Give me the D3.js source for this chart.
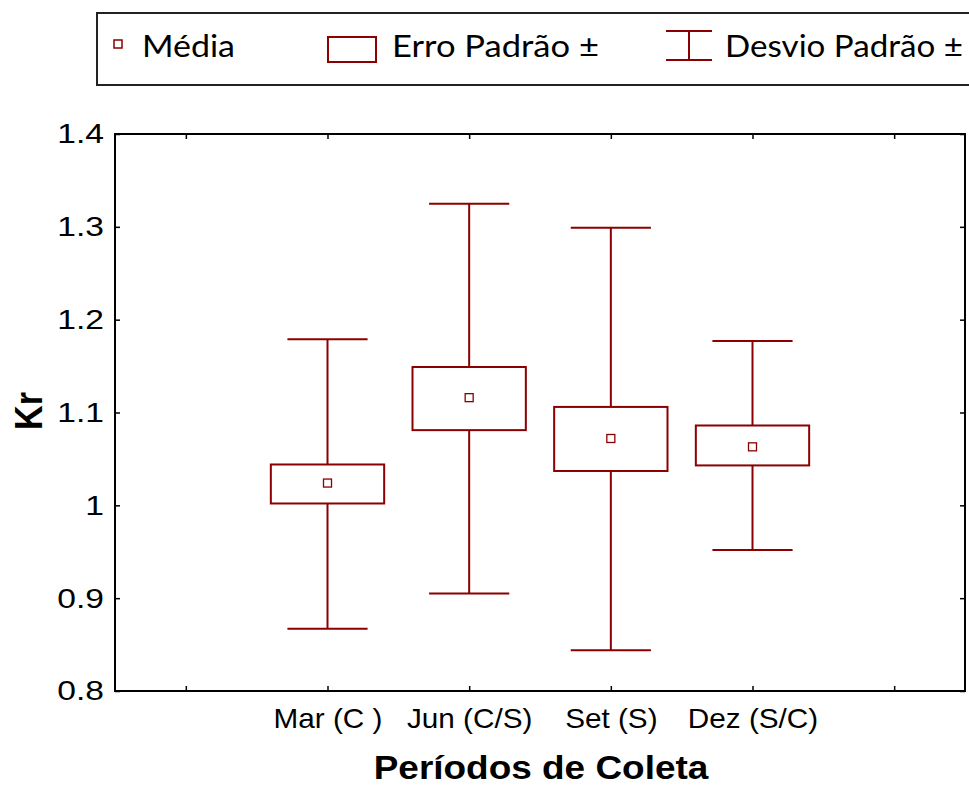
<!DOCTYPE html>
<html><head><meta charset="utf-8">
<script src="https://cdn.jsdelivr.net/npm/d3@7"></script>
<style>body{margin:0;background:#fff}</style>
</head><body><svg id="c" width="969" height="787"></svg>
<script>
// ---- data ----
const categories = ["Mar (C )", "Jun (C/S)", "Set (S)", "Dez (S/C)"];
const means  = [1.024, 1.116, 1.072, 1.063];
const seLow  = [1.002, 1.081, 1.037, 1.043];
const seHigh = [1.044, 1.149, 1.106, 1.086];
const sdLow  = [0.867, 0.905, 0.844, 0.952];
const sdHigh = [1.179, 1.325, 1.299, 1.177];
const yTicks = [0.8, 0.9, 1.0, 1.1, 1.2, 1.3, 1.4];
const legendLabels = ["Média", "Erro Padrão ±", "Desvio Padrão ±"];
const xTitle = "Períodos de Coleta";
const yTitle = "Kr";

// ---- layout ----
const L = 115, R = 965, T = 134, B = 691;
const red = "#8b0000";
const svg = d3.select("#c");

const slots = ["_a", ...categories, "_b"];
const x = d3.scalePoint().domain(slots).range([L, R]).padding(0.5);
const step = x.step();
const y = d3.scaleLinear().domain([0.8, 1.4]).range([B, T]);

// axes
const fmtY = d => (d === 1 ? "1" : d3.format(".1f")(d));
const gB = svg.append("g").attr("transform", `translate(0,${B})`)
  .call(d3.axisBottom(x).tickSizeInner(-5).tickSizeOuter(0).tickPadding(18)
    .tickFormat(d => d.startsWith("_") ? "" : d));
gB.selectAll("text").attr("font-family", "Liberation Sans, Arial, sans-serif")
  .attr("font-size", 27).attr("fill", "#000").attr("transform", "scale(1.1,1)");
const gT = svg.append("g").attr("transform", `translate(0,${T})`)
  .call(d3.axisTop(x).tickSizeInner(-5).tickSizeOuter(0).tickFormat(""));
const gL = svg.append("g").attr("transform", `translate(${L},0)`)
  .call(d3.axisLeft(y).tickValues(yTicks).tickSizeInner(-5).tickSizeOuter(0).tickPadding(11).tickFormat(fmtY));
gL.selectAll("text").attr("font-family", "Liberation Sans, Arial, sans-serif")
  .attr("font-size", 28).attr("fill", "#000")
  .attr("x", -11 / 1.2).attr("transform", "scale(1.2,1)");
const gR = svg.append("g").attr("transform", `translate(${R},0)`)
  .call(d3.axisRight(y).tickValues(yTicks).tickSizeInner(-5).tickSizeOuter(0).tickFormat(""));
[gB, gT, gL, gR].forEach(g => {
  g.select(".domain").remove();
  g.selectAll(".tick line").attr("stroke", "#000").attr("stroke-width", 1.5);
});

// frame
svg.append("rect").attr("x", L).attr("y", T).attr("width", R - L).attr("height", B - T)
  .attr("fill", "none").attr("stroke", "#000").attr("stroke-width", 2);

// boxes
const idx = d3.range(categories.length);
const g = svg.append("g");
idx.forEach(i => {
  const cx = x(categories[i]);
  g.append("line").attr("x1", cx).attr("x2", cx).attr("y1", y(sdHigh[i])).attr("y2", y(sdLow[i]))
    .attr("stroke", red).attr("stroke-width", 2);
  [sdHigh[i], sdLow[i]].forEach(v => {
    g.append("line").attr("x1", cx - 0.283 * step).attr("x2", cx + 0.283 * step)
      .attr("y1", y(v)).attr("y2", y(v)).attr("stroke", red).attr("stroke-width", 2);
  });
  g.append("rect").attr("x", cx - 0.4 * step).attr("width", 0.8 * step)
    .attr("y", y(seHigh[i])).attr("height", y(seLow[i]) - y(seHigh[i]))
    .attr("fill", "#fff").attr("stroke", red).attr("stroke-width", 2);
  g.append("rect").attr("x", cx - 4).attr("y", y(means[i]) - 4).attr("width", 8).attr("height", 8)
    .attr("fill", "#fff").attr("stroke", red).attr("stroke-width", 1.3);
});

// titles
svg.append("g").attr("transform", `translate(541,779)`)
  .append("text").attr("text-anchor", "middle").attr("transform", "scale(1.12,1)")
  .attr("font-family", "Liberation Sans, Arial, sans-serif").attr("font-weight", "bold")
  .attr("font-size", 33).attr("fill", "#000").text(xTitle);
svg.append("g").attr("transform", `translate(42,411) rotate(-90)`)
  .append("text").attr("text-anchor", "middle").attr("transform", "scale(1,1.15)")
  .attr("font-family", "Liberation Sans, Arial, sans-serif").attr("font-weight", "bold")
  .attr("font-size", 34).attr("fill", "#000").text(yTitle);

// legend
const lg = svg.append("g");
lg.append("rect").attr("x", 97).attr("y", 13).attr("width", 900).attr("height", 72)
  .attr("fill", "#fff").attr("stroke", "#222").attr("stroke-width", 2);
lg.append("rect").attr("x", 114).attr("y", 40).attr("width", 8).attr("height", 8)
  .attr("fill", "#fff").attr("stroke", red).attr("stroke-width", 1.5);
lg.append("rect").attr("x", 328).attr("y", 37).attr("width", 48).attr("height", 25)
  .attr("fill", "#fff").attr("stroke", red).attr("stroke-width", 2);
lg.append("line").attr("x1", 689).attr("x2", 689).attr("y1", 31).attr("y2", 60).attr("stroke", red).attr("stroke-width", 2);
lg.append("line").attr("x1", 666).attr("x2", 712).attr("y1", 31).attr("y2", 31).attr("stroke", red).attr("stroke-width", 2);
lg.append("line").attr("x1", 666).attr("x2", 712).attr("y1", 60).attr("y2", 60).attr("stroke", red).attr("stroke-width", 2);
const legX = [142, 392, 725], legW = [93, 207, 238];
legendLabels.forEach((t, i) => {
  lg.append("text").attr("x", legX[i]).attr("y", 57)
    .attr("font-family", "Lato, 'Open Sans', sans-serif").attr("font-size", 31).attr("fill", "#000")
    .attr("textLength", legW[i]).attr("lengthAdjust", "spacingAndGlyphs").text(t);
});
</script></body></html>
